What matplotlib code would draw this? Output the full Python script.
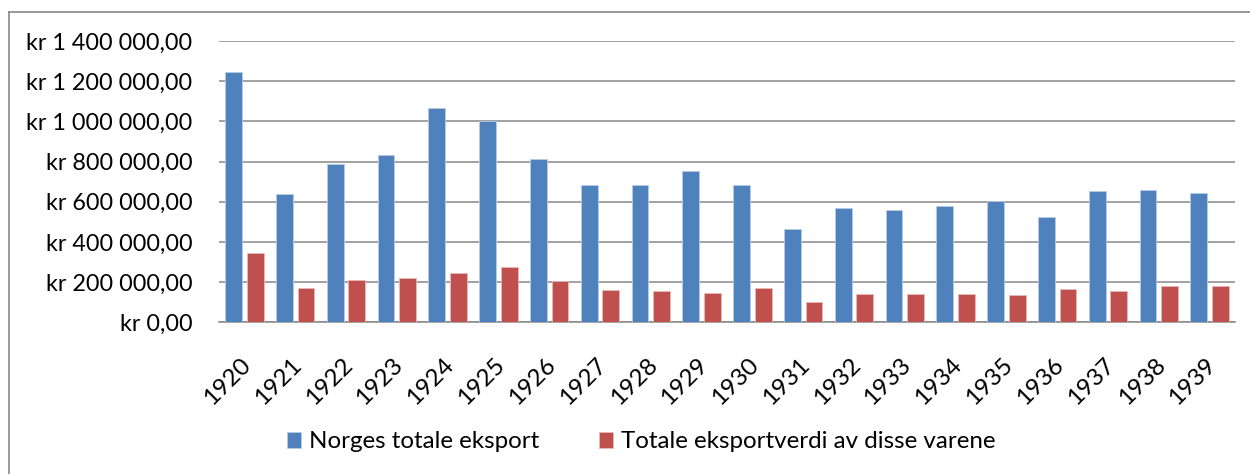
import matplotlib.pyplot as plt
from matplotlib.lines import Line2D
from matplotlib.ticker import FuncFormatter
from matplotlib.transforms import ScaledTranslation
import numpy as np

years = [str(y) for y in range(1920, 1940)]
norges_totale = [1245000, 638000, 788000, 831000, 1065000, 1002000, 813000, 683000,
                 682000, 751000, 683000, 466000, 567000, 557000, 579000, 605000,
                 522000, 653000, 657000, 643000]
disse_varene = [343000, 169000, 211000, 222000, 247000, 274000, 206000, 161000,
                154000, 144000, 169000, 103000, 139000, 141000, 139000, 136000,
                164000, 154000, 181000, 179000]
series_names = ['Norges totale eksport', 'Totale eksportverdi av disse varene']

plt.rcParams['font.family'] = ['Lato', 'DejaVu Sans']

fig = plt.figure(figsize=(12.5, 4.74), dpi=100)
ax = fig.add_axes([219 / 1250, 1 - 322.3 / 474, (1235 - 219) / 1250, (322.3 - 41) / 474])

x = np.arange(len(years))
w = 0.329
ax.bar(x - 0.212, norges_totale, w, color='#4f81bd', edgecolor='#b8cce4', linewidth=0.6,
       label=series_names[0], zorder=3)
ax.bar(x + 0.212, disse_varene, w, color='#c0504d', edgecolor='#e6b9b8', linewidth=0.6,
       label=series_names[1], zorder=3)

ax.set_xlim(-0.5, len(years) - 0.5)
ax.set_ylim(0, 1400000)
ax.set_yticks(np.arange(0, 1400001, 200000))


def kr(v, pos):
    s = f'{int(v):,}'.replace(',', ' ')
    return f'kr {s},00'


ax.yaxis.set_major_formatter(FuncFormatter(kr))
ax.grid(axis='y', color='#878787', linewidth=1.1, zorder=0)
ax.set_axisbelow(True)
for side in ['top', 'right', 'left']:
    ax.spines[side].set_visible(False)
ax.spines['bottom'].set_color('#878787')
ax.spines['bottom'].set_linewidth(1.1)

ax.set_xticks(x)
ax.set_xticklabels(years, rotation=45, ha='right', va='center', rotation_mode='anchor')
ax.tick_params(axis='x', length=0, pad=28, labelsize=17.5)
ax.tick_params(axis='y', length=0, pad=19, labelsize=16.8)
# nudge rotated year labels a little to the right
shift = ScaledTranslation(3 / 100, 0, fig.dpi_scale_trans)
for lbl in ax.get_xticklabels():
    lbl.set_transform(lbl.get_transform() + shift)

fig.legend(loc='center', bbox_to_anchor=(0.513, 1 - 442 / 474), ncol=2, frameon=False, fontsize=17.4,
           handlelength=0.6, handleheight=0.6, handletextpad=0.34, columnspacing=2.45)

# outer chart border (top and left edges visible)
fig.add_artist(Line2D([8.5 / 1250, 1], [1 - 12 / 474, 1 - 12 / 474], color='#888888', linewidth=1.2,
                      transform=fig.transFigure))
fig.add_artist(Line2D([8.5 / 1250, 8.5 / 1250], [0, 1 - 12 / 474], color='#888888', linewidth=1.2,
                      transform=fig.transFigure))

fig.savefig('out.png', dpi=100)
